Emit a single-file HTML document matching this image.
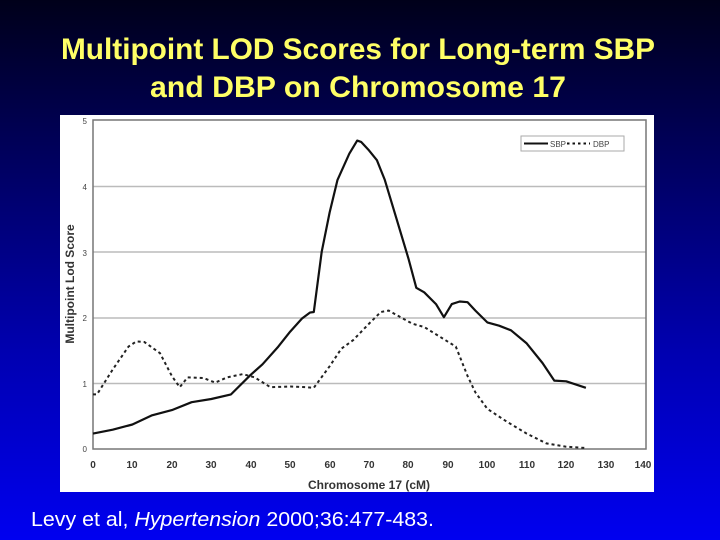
<!DOCTYPE html>
<html><head><meta charset="utf-8"><style>
html,body{margin:0;padding:0;width:720px;height:540px;overflow:hidden}
body{background:linear-gradient(#00001a 0%,#000060 30%,#0000b0 65%,#0000f0 100%)}
</style></head><body>
<svg width="720" height="540" xmlns="http://www.w3.org/2000/svg" style="position:absolute;left:0;top:0">
<g font-family="Liberation Sans, sans-serif">
<text x="358" y="59" fill="#ffff66" font-size="30" font-weight="bold" text-anchor="middle" textLength="594" lengthAdjust="spacingAndGlyphs">Multipoint LOD Scores for Long-term SBP</text>
<text x="358" y="97" fill="#ffff66" font-size="30" font-weight="bold" text-anchor="middle" textLength="416" lengthAdjust="spacingAndGlyphs">and DBP on Chromosome 17</text>
<rect x="60" y="115" width="594" height="377" fill="#fff"/>
<g stroke="#bbb" stroke-width="1.5">
<line x1="93" y1="383.5" x2="646" y2="383.5"/>
<line x1="93" y1="318" x2="646" y2="318"/>
<line x1="93" y1="252" x2="646" y2="252"/>
<line x1="93" y1="186.5" x2="646" y2="186.5"/>
</g>
<rect x="93" y="120" width="553" height="329" fill="none" stroke="#777" stroke-width="1.5"/>
<g font-size="8" fill="#444" text-anchor="end">
<text x="87" y="452">0</text><text x="87" y="387">1</text><text x="87" y="321">2</text>
<text x="87" y="256">3</text><text x="87" y="190">4</text><text x="87" y="124">5</text>
</g>
<g font-size="10" font-weight="bold" fill="#333" text-anchor="middle">
<text x="93" y="468">0</text><text x="132" y="468">10</text><text x="172" y="468">20</text><text x="211" y="468">30</text><text x="251" y="468">40</text><text x="290" y="468">50</text><text x="330" y="468">60</text><text x="369" y="468">70</text><text x="408" y="468">80</text><text x="448" y="468">90</text><text x="487" y="468">100</text><text x="527" y="468">110</text><text x="566" y="468">120</text><text x="606" y="468">130</text><text x="643" y="468">140</text>
<text x="369" y="489" font-size="12">Chromosome 17 (cM)</text>
<text transform="translate(74,284) rotate(-90)" font-size="12">Multipoint Lod Score</text>
</g>
<rect x="521" y="136" width="103" height="15" fill="#fff" stroke="#aaa"/>
<line x1="524" y1="143.5" x2="548" y2="143.5" stroke="#111" stroke-width="2"/>
<text x="550" y="147" font-size="8" fill="#444">SBP</text>
<line x1="567" y1="143.5" x2="590" y2="143.5" stroke="#111" stroke-width="2" stroke-dasharray="2.5,3"/>
<text x="593" y="147" font-size="8" fill="#444">DBP</text>
<polyline fill="none" stroke="#111" stroke-width="2.2" stroke-linejoin="round" points="93,433.6 112.7,429.7 132.4,424.5 152.1,415.3 171.9,410.1 191.6,402.2 211.3,399 231,394.4 250.7,374.8 262.5,364.3 278.3,346.6 290.2,331.6 302,318.5 309.9,312.6 313.8,312 321.7,251.8 329.6,212.6 337.5,179.9 349.3,153.7 357.2,140.6 361.1,141.9 369,150.4 376.9,160.2 384.8,179.9 396.6,219.1 408.4,258.4 416.3,287.8 424.2,292.3 436,304.1 443.9,317.2 451.8,304.1 459.7,301.5 467.6,302.2 475.4,310.6 487.3,322.4 499.1,325.7 511,330.3 526.7,343.4 542.5,363 554.3,380.6 566.2,381.3 585.9,387.8"/>
<polyline fill="none" stroke="#222" stroke-width="2" stroke-dasharray="3,3" points="93,394.4 97,394.4 112.7,369.5 128.5,346.6 136.4,341.4 144.3,342 160,353.2 171.9,376.1 179.7,387.2 187.6,377.4 203.4,378 215.2,382.6 227.1,377.4 242.8,374.1 254.7,377.4 270.4,387.2 290.2,386.5 305.9,387.2 313.8,387.8 329.6,366.3 341.4,348.6 353.2,340.1 369,323.7 380.8,312 388.7,310.6 400.5,317.2 412.4,323.7 424.2,327 440,336.8 455.8,346.6 467.6,376.1 475.4,392.4 487.3,408.8 507,421.8 526.7,433.6 546.4,443.4 566.2,446.7 585.9,448"/>
<text x="31" y="526" fill="#fff" font-size="20" textLength="403" lengthAdjust="spacingAndGlyphs">Levy et al, <tspan font-style="italic">Hypertension</tspan> 2000;36:477-483.</text>
</g>
</svg>
</body></html>
